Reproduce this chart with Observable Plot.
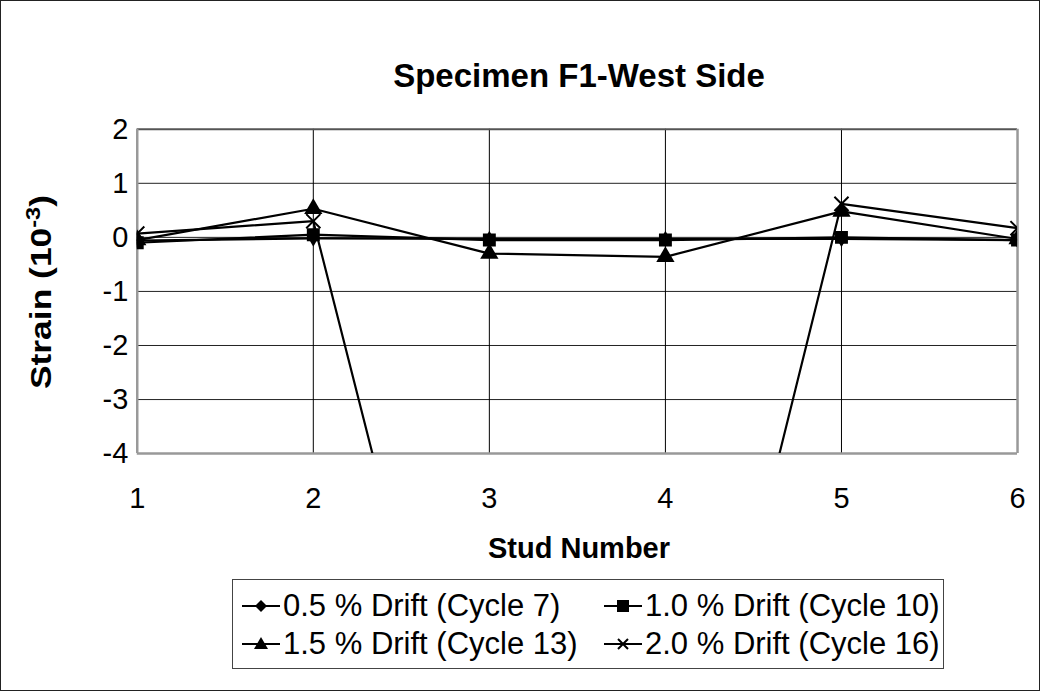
<!DOCTYPE html>
<html>
<head>
<meta charset="utf-8">
<script src="https://cdn.jsdelivr.net/npm/d3@7"></script>
<script src="https://cdn.jsdelivr.net/npm/@observablehq/plot@0.6"></script>
<style>
  html, body { margin: 0; padding: 0; background: #fff; }
  #chart { position: relative; width: 1040px; height: 691px; box-sizing: border-box; border: 1px solid #222; overflow: hidden; font-family: "Liberation Sans", Arial, sans-serif; color: #000; }
  #chart svg.plot { position: absolute; left: -1px; top: -1px; }
  .title { position: absolute; left: 578px; top: 75px; transform: translate(-50%, -50%); font-weight: bold; font-size: 33px; white-space: nowrap; }
  .xtitle { position: absolute; left: 578px; top: 547px; transform: translate(-50%, -50%); font-weight: bold; font-size: 29px; white-space: nowrap; }
  .ytitle { position: absolute; left: 40px; top: 291px; transform: translate(-50%, -50%) rotate(-90deg) scaleX(1.18); font-weight: bold; font-size: 30px; white-space: nowrap; }
  .ytitle sup { font-size: 20px; vertical-align: 0.55em; line-height: 0; }
  .legend { position: absolute; left: 231px; top: 578px; width: 712px; height: 90px; box-sizing: border-box; border: 1px solid #444; }
  .entry { position: absolute; display: flex; align-items: center; font-size: 31px; white-space: nowrap; height: 36px; }
  .entry svg { margin-right: 2px; }
</style>
</head>
<body>
<div id="chart"></div>
<script>
// ---- data ----
const studs = [1, 2, 3, 4, 5, 6];
const yTicks = [-4, -3, -2, -1, 0, 1, 2];
const seriesNames = ["0.5 % Drift (Cycle 7)", "1.0 % Drift (Cycle 10)", "1.5 % Drift (Cycle 13)", "2.0 % Drift (Cycle 16)"];
const seriesSymbols = ["diamond", "square", "triangle", "times"];
const drift05 = [-0.06, -0.02, -0.03, -0.03, -0.03, -0.05];
const drift10 = [-0.10, 0.05, -0.05, -0.05, 0.00, -0.05];
const drift15 = [-0.05, 0.53, -0.30, -0.36, 0.48, -0.03];
const drift20 = [0.07, 0.30, -12.5, -12.5, 0.62, 0.17];
const seriesValues = [drift05, drift10, drift15, drift20];

const title = "Specimen F1-West Side";
const xTitle = "Stud Number";

// ---- build table ----
const rows = [];
seriesNames.forEach((name, k) => {
  studs.forEach((s, i) => rows.push({stud: s, strain: seriesValues[k][i], series: name, symbol: seriesSymbols[k]}));
});

const symbolSize = {diamond: 5, square: 7.3, triangle: 6.8, times: 6.5};

const marks = [
  Plot.ruleY(yTicks.slice(1, -1), {stroke: "#222", strokeWidth: 1}),
  Plot.ruleX(studs.slice(1, -1), {stroke: "#000", strokeWidth: 1}),
  Plot.ruleY([yTicks[yTicks.length - 1]], {stroke: "#555", strokeWidth: 2}),
  Plot.ruleY([yTicks[0]], {stroke: "#999", strokeWidth: 2.5}),
  Plot.ruleX([studs[0], studs[studs.length - 1]], {stroke: "#999", strokeWidth: 2.5}),
  Plot.line(rows, {x: "stud", y: "strain", z: "series", stroke: "#000", strokeWidth: 2.2, clip: true}),
];
seriesNames.forEach((name, k) => {
  const sym = seriesSymbols[k];
  const data = rows.filter(d => d.series === name);
  if (sym === "times") {
    marks.push(Plot.dot(data, {x: "stud", y: "strain", symbol: "times", r: symbolSize[sym], stroke: "#000", strokeWidth: 2, clip: true}));
  } else {
    marks.push(Plot.dot(data, {x: "stud", y: "strain", symbol: sym, r: symbolSize[sym], fill: "#000", stroke: "none", clip: true}));
  }
});
marks.push(Plot.axisX(studs, {tickSize: 0, tickPadding: 34, tickFormat: d => String(d)}));
marks.push(Plot.axisY(yTicks, {tickSize: 0, tickPadding: 9, tickFormat: d => d < 0 ? "-" + Math.abs(d) : String(d)}));

const plot = Plot.plot({
  width: 1040,
  height: 691,
  marginLeft: 137,
  marginRight: 21,
  marginTop: 129,
  marginBottom: 237,
  x: {domain: [studs[0], studs[studs.length - 1]], label: null},
  y: {domain: [yTicks[0], yTicks[yTicks.length - 1]], label: null},
  style: {fontFamily: "'Liberation Sans', Arial, sans-serif", fontSize: "29px", color: "#000", background: "transparent", overflow: "visible"},
  marks
});
plot.classList.add("plot");

const chart = document.getElementById("chart");
chart.appendChild(plot);

const t = document.createElement("div"); t.className = "title"; t.textContent = title; chart.appendChild(t);
const xt = document.createElement("div"); xt.className = "xtitle"; xt.textContent = xTitle; chart.appendChild(xt);
const yt = document.createElement("div"); yt.className = "ytitle"; yt.innerHTML = "Strain (10<sup>-3</sup>)"; chart.appendChild(yt);

// ---- legend ----
const legend = document.createElement("div"); legend.className = "legend"; chart.appendChild(legend);
const colX = [8, 370];
const rowY = [8, 46];
const symPaths = {
  diamond: "M19,13 L25,19 L19,25 L13,19 Z",
  square: "M13,13 L25,13 L25,25 L13,25 Z",
  triangle: "M19,12 L26,24 L12,24 Z",
};
seriesNames.forEach((name, k) => {
  const e = document.createElement("div");
  e.className = "entry";
  e.style.left = colX[k % 2] + "px";
  e.style.top = rowY[Math.floor(k / 2)] + "px";
  const sym = seriesSymbols[k];
  let m;
  if (sym === "times") m = `<path d="M14,14 L24,24 M24,14 L14,24" stroke="#000" stroke-width="2" fill="none"/>`;
  else m = `<path d="${symPaths[sym]}" fill="#000"/>`;
  e.innerHTML = `<svg width="40" height="36" viewBox="0 1 38 36"><line x1="0" y1="19" x2="38" y2="19" stroke="#000" stroke-width="2"/>${m}</svg><span>${name}</span>`;
  legend.appendChild(e);
});
</script>
</body>
</html>
